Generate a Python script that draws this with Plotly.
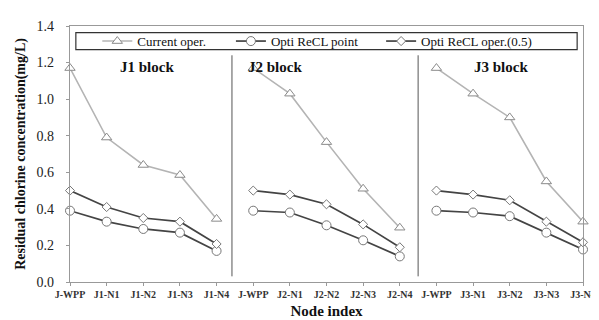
import plotly.graph_objects as go

nodes = ["J-WPP", "J1-N1", "J1-N2", "J1-N3", "J1-N4",
         "J-WPP", "J2-N1", "J2-N2", "J2-N3", "J2-N4",
         "J-WPP", "J3-N1", "J3-N2", "J3-N3", "J3-N4"]
current_oper = [1.17, 0.79, 0.64, 0.585, 0.345,
                1.17, 1.03, 0.765, 0.51, 0.297,
                1.17, 1.03, 0.90, 0.55, 0.33]
opti_point = [0.39, 0.33, 0.29, 0.27, 0.17,
              0.39, 0.38, 0.31, 0.228, 0.14,
              0.39, 0.38, 0.36, 0.27, 0.178]
opti_oper = [0.50, 0.41, 0.35, 0.33, 0.208,
             0.50, 0.478, 0.425, 0.315, 0.19,
             0.50, 0.478, 0.447, 0.33, 0.217]
block_size = 5
block_labels = ["J1 block", "J2 block", "J3 block"]
block_label_x = [2.1, 5.6, 11.75]
separators_x = [4.42, 9.5]
y_ticks = [0.0, 0.2, 0.4, 0.6, 0.8, 1.0, 1.2, 1.4]

xs = list(range(len(nodes)))
FONT = "Liberation Serif"

W, H = 599, 320
L, R, T, B = 62, 11, 12, 37
pw = W - L - R
ph = H - T - B


def px2x(p):
    return (p - L) / pw


def py2y(p):
    return (H - B - p) / ph


def split_blocks(vals):
    out = []
    for i, v in enumerate(vals):
        if i > 0 and i % block_size == 0:
            out.append(None)
        out.append(v)
    return out


xb = split_blocks(xs)

fig = go.Figure()
fig.add_trace(go.Scatter(
    x=xb, y=split_blocks(current_oper), name="Current oper.", mode="lines+markers",
    line=dict(color="#b4b4b4", width=1.6), connectgaps=False,
    marker=dict(symbol="triangle-up", size=9, color="white",
                line=dict(color="#8a8a8a", width=1)),
    cliponaxis=False, legend="legend"))
fig.add_trace(go.Scatter(
    x=xb, y=split_blocks(opti_point), name="Opti ReCL point", mode="lines+markers",
    line=dict(color="#444444", width=1.7), connectgaps=False,
    marker=dict(symbol="circle", size=9, color="white",
                line=dict(color="#777777", width=1)),
    cliponaxis=False, legend="legend2"))
fig.add_trace(go.Scatter(
    x=xb, y=split_blocks(opti_oper), name="Opti ReCL oper.(0.5)", mode="lines+markers",
    line=dict(color="#444444", width=1.7), connectgaps=False,
    marker=dict(symbol="diamond", size=7, color="white",
                line=dict(color="#777777", width=1)),
    cliponaxis=False, legend="legend3"))

legend_common = dict(font=dict(family=FONT, size=13, color="#111"),
                     bgcolor="rgba(0,0,0,0)", borderwidth=0,
                     orientation="h", yanchor="middle", xanchor="left",
                     y=py2y(28))
fig.update_layout(
    legend=dict(x=px2x(90), **legend_common),
    legend2=dict(x=px2x(227), **legend_common),
    legend3=dict(x=px2x(381), **legend_common),
)

# legend frame
fig.add_shape(type="rect", xref="paper", yref="paper",
              x0=px2x(68), x1=px2x(582), y0=py2y(37), y1=py2y(19),
              line=dict(color="#333", width=1.2), fillcolor="rgba(0,0,0,0)")

for sx in separators_x:
    fig.add_shape(type="line", xref="x", yref="paper", x0=sx, x1=sx,
                  y0=py2y(277), y1=py2y(43),
                  line=dict(color="#555", width=1))

for lbl, bx in zip(block_labels, block_label_x):
    fig.add_annotation(x=bx, y=py2y(55), xref="x", yref="paper",
                       text="<b>%s</b>" % lbl, showarrow=False,
                       font=dict(family=FONT, size=15, color="#111"),
                       xanchor="center", yanchor="middle")

fig.update_xaxes(range=[0, 14], tickvals=xs,
                 ticktext=["<b>%s</b>" % n for n in nodes],
                 tickfont=dict(family=FONT, size=10, color="#333"),
                 ticklabeloverflow="allow",
                 showgrid=False, zeroline=False,
                 showline=True, linecolor="#999", linewidth=1.2, mirror=True,
                 ticks="outside", ticklen=3, tickcolor="#999",
                 title=dict(text="<b>Node index</b>",
                            font=dict(family=FONT, size=15, color="#111"),
                            standoff=6))
fig.update_yaxes(range=[0, 1.4], tickvals=y_ticks,
                 ticktext=["%.1f" % v for v in y_ticks],
                 tickfont=dict(family=FONT, size=14, color="#222"),
                 ticklabelstandoff=9,
                 showgrid=False, zeroline=False,
                 showline=True, linecolor="#999", linewidth=1.2, mirror=True,
                 ticks="outside", ticklen=3, tickcolor="#999",
                 title=dict(text="<b>Residual chlorine concentration(mg/L)</b>",
                            font=dict(family=FONT, size=14, color="#111"),
                            standoff=7))

fig.update_layout(width=W, height=H, margin=dict(l=L, r=R, t=T, b=B),
                  plot_bgcolor="white", paper_bgcolor="white",
                  showlegend=True)

fig.write_html("out.html")
